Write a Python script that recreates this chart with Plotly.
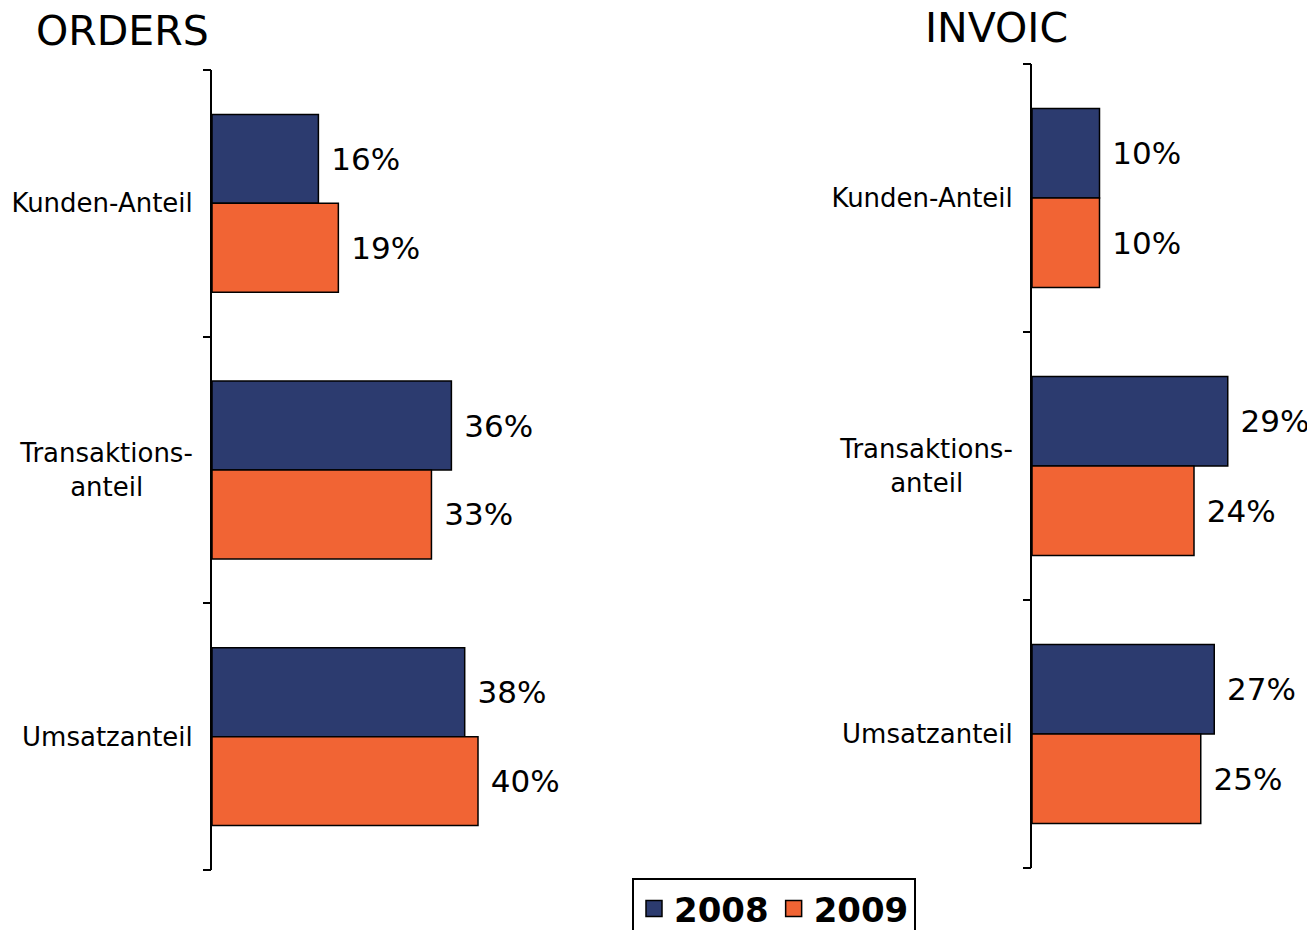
import plotly.graph_objects as go

categories = ["Kunden-Anteil", "Transaktions-<br>anteil\u00a0\u00a0\u00a0\u00a0\u00a0\u00a0", "Umsatzanteil"]
boundary_ticks = [-0.5, 0.5, 1.5, 2.5]
years = ["2008", "2009"]
orders_2008 = [16, 36, 38]
orders_2009 = [19, 33, 40]
invoic_2008 = [10, 29, 27]
invoic_2009 = [10, 24, 25]
colors = {"2008": "#2C3B6F", "2009": "#F16434"}

OFF = 8  # page body margin
W, H = 1315 - OFF, 980
FONT = "DejaVu Sans"

fig = go.Figure()

def add_bars(vals, year, xa, ya):
    fig.add_trace(go.Bar(
        y=categories, x=vals, orientation="h", name=year,
        marker=dict(color=colors[year], line=dict(color="black", width=1.5)),
        text=["\u00a0" + f"{v}%" for v in vals], textposition="outside",
        textfont=dict(family=FONT, size=31, color="black"),
        cliponaxis=False, constraintext="none",
        xaxis=xa, yaxis=ya, showlegend=False, hoverinfo="skip",
    ))

add_bars(orders_2008, "2008", "x", "y")
add_bars(orders_2009, "2009", "x", "y")
add_bars(invoic_2008, "2008", "x2", "y2")
add_bars(invoic_2009, "2009", "x2", "y2")

# empty traces so the boundary-tick overlay axes are drawn
fig.add_trace(go.Scatter(x=[None], y=[None], xaxis="x", yaxis="y3",
                         showlegend=False, hoverinfo="skip"))
fig.add_trace(go.Scatter(x=[None], y=[None], xaxis="x2", yaxis="y4",
                         showlegend=False, hoverinfo="skip"))

for year in years:
    fig.add_trace(go.Scatter(
        x=[None], y=[None], mode="markers", name=year,
        marker=dict(symbol="square", size=16, color=colors[year],
                    line=dict(color="black", width=1.5)),
        xaxis="x", yaxis="y", showlegend=True,
    ))

def px_x(p):
    return (p - OFF) / W

def px_y(p):
    return (H - (p - OFF)) / H

yaxis_common = dict(
    type="category", range=[2.5, -0.5], showline=True, linecolor="black",
    linewidth=2, ticks="", showgrid=False, zeroline=False, automargin=False,
    tickfont=dict(family=FONT, size=26, color="black"), ticklabelstandoff=12,
)
tickaxis_common = dict(
    type="linear", range=[2.5, -0.5], tickmode="array", tickvals=boundary_ticks,
    ticks="outside", ticklen=8, tickwidth=2, tickcolor="black", automargin=False,
    showticklabels=False, showline=False, showgrid=False, zeroline=False, side="left",
)

dom1 = [px_y(870), px_y(70)]
dom2 = [px_y(868), px_y(64)]

fig.update_layout(
    width=W, height=H, margin=dict(l=0, r=0, t=0, b=0),
    paper_bgcolor="white", plot_bgcolor="white",
    barmode="group", bargap=0.333, bargroupgap=0,
    xaxis=dict(domain=[px_x(212), px_x(612)], range=[0, 400 / 6.65], visible=False, automargin=False),
    yaxis=dict(domain=dom1, anchor="x", **yaxis_common),
    yaxis3=dict(domain=dom1, anchor="x", overlaying="y", **tickaxis_common),
    xaxis2=dict(domain=[px_x(1032), px_x(1315)], range=[0, 283 / 6.75], visible=False, anchor="y2", automargin=False),
    yaxis2=dict(domain=dom2, anchor="x2", **yaxis_common),
    yaxis4=dict(domain=dom2, anchor="x2", overlaying="y2", **tickaxis_common),
    legend=dict(
        orientation="h", x=px_x(774), xanchor="center", y=px_y(878), yanchor="top",
        bordercolor="black", borderwidth=2, bgcolor="white",
        font=dict(family=FONT, size=34, color="black", weight="bold"),
        itemsizing="trace",
    ),
    annotations=[
        dict(text="ORDERS", x=px_x(122), y=px_y(31), xref="paper", yref="paper",
             showarrow=False, font=dict(family=FONT, size=41, color="black"),
             xanchor="center", yanchor="middle"),
        dict(text="INVOIC", x=px_x(996), y=px_y(28), xref="paper", yref="paper",
             showarrow=False, font=dict(family=FONT, size=41, color="black"),
             xanchor="center", yanchor="middle"),
    ],
)

fig.write_html("out.html")
